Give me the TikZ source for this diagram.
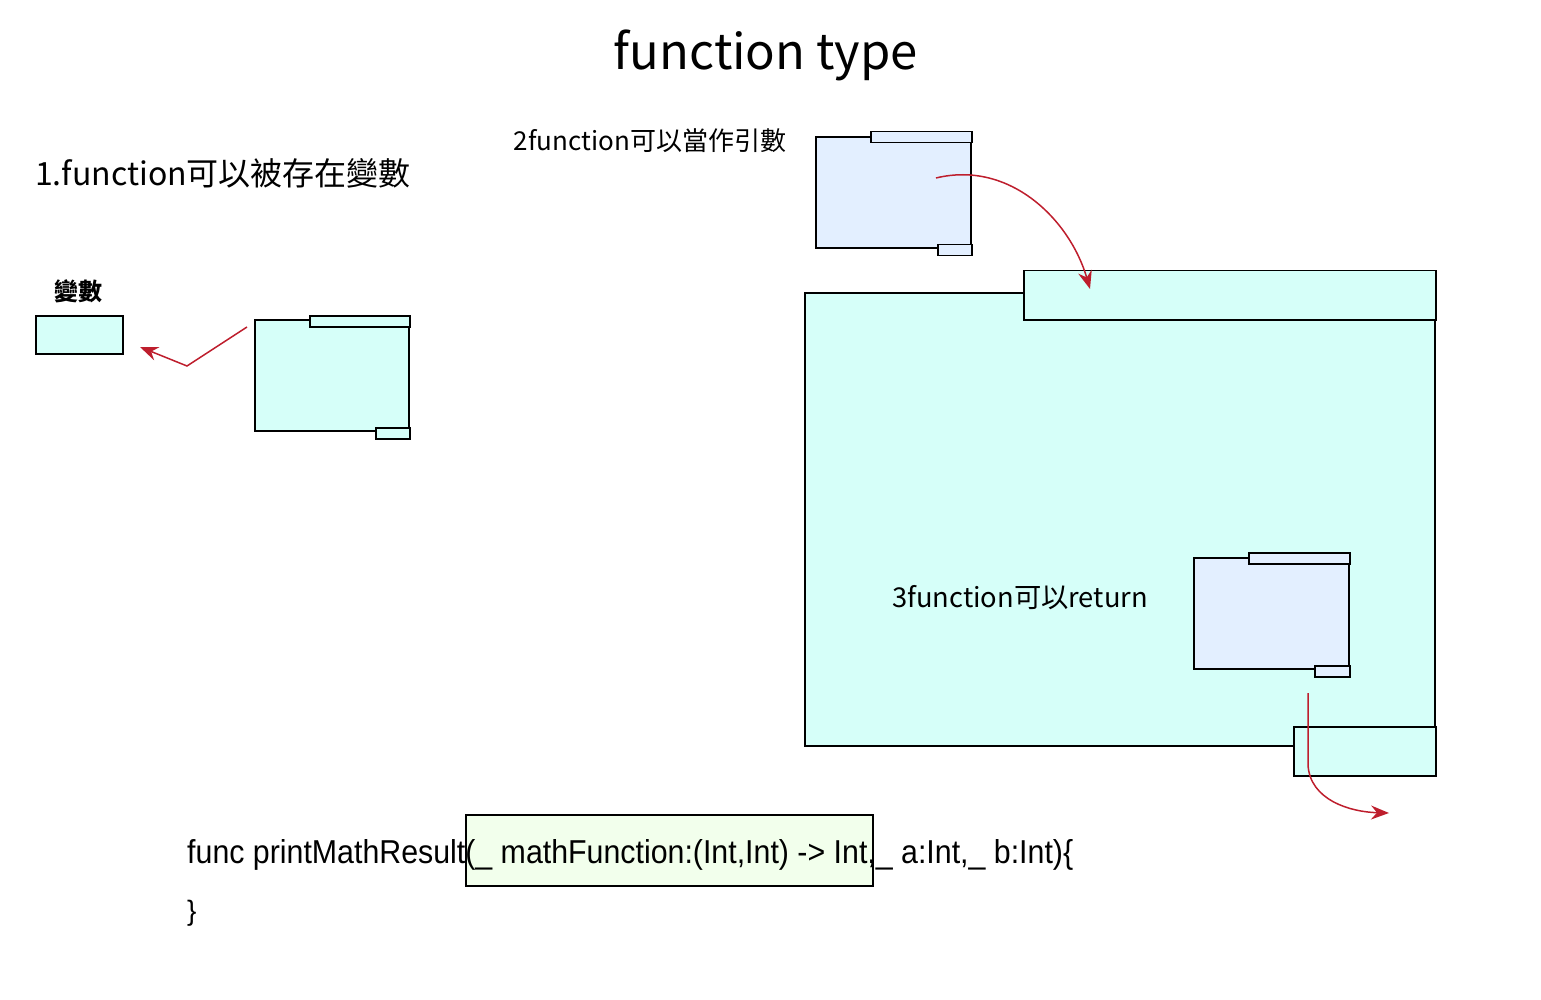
\documentclass[tikz,border=0pt]{standalone}
\usepackage{fontspec}
\setmainfont{Noto Sans CJK TC}
\newfontfamily\codefont{Liberation Sans}
\usetikzlibrary{arrows.meta}
\definecolor{cyanfill}{RGB}{214,255,249}
\definecolor{bluefill}{RGB}{227,239,255}
\definecolor{greenfill}{RGB}{242,255,236}
\definecolor{redline}{RGB}{190,30,45}
\tikzset{
  shp/.style={draw=black, line width=1.5pt},
  cy/.style={shp, fill=cyanfill},
  bl/.style={shp, fill=bluefill},
  redarrow/.style={draw=redline, line width=1.5pt, -{Stealth[length=18pt,width=14pt,inset=6pt]}},
  lbl/.style={inner sep=0pt, anchor=west},
}
\begin{document}
\begin{tikzpicture}[x=1pt,y=-1pt]
\useasboundingbox (0,0) rectangle (1541,1000);
% title
\node[inner sep=0pt] (title) at (766,55) {\fontsize{49}{54}\selectfont function type};
% section 1
\node[lbl] (t1) at (35,173) {\fontsize{32}{36}\selectfont 1.function可以被存在變數};
\node[inner sep=0pt] (vlbl) at (78,291) {\fontsize{24}{28}\selectfont\bfseries 變數};
\node[cy, minimum width=87pt, minimum height=38pt, inner sep=0pt, anchor=north west] (var) at (35,315) {};
% component 1
\path[cy] (255,320) rectangle (409,431);
\node[cy, minimum width=100pt, minimum height=11pt, inner sep=0pt, anchor=north west] (c1top) at (309,315) {};
\node[cy, minimum width=34pt, minimum height=11pt, inner sep=0pt, anchor=north west] (c1bot) at (375,427) {};
\coordinate (c1out) at (247,327);
\coordinate (c1mid) at (187,366);
\coordinate (varin) at (140,347);
\draw[redarrow] (c1out) -- (c1mid) -- (varin);
% section 2
\node[inner sep=0pt] (t2) at (650,141) {\fontsize{26}{30}\selectfont 2function可以當作引數};
\path[bl] (816,137) rectangle (971,248);
\node[bl, minimum width=101pt, minimum height=11pt, inner sep=0pt, anchor=north west] (c2top) at (870,131) {};
\node[bl, minimum width=34pt, minimum height=11pt, inner sep=0pt, anchor=north west] (c2bot) at (937,244) {};
% big component
\path[cy] (805,293) rectangle (1435,746);
\node[cy, minimum width=412pt, minimum height=49pt, inner sep=0pt, anchor=north west] (bigtop) at (1023,270) {};
\node[cy, minimum width=142pt, minimum height=49pt, inner sep=0pt, anchor=north west] (bigbot) at (1293,726) {};
\coordinate (c2out) at (936,178);
\coordinate (bigin) at (1090,289);
\draw[redarrow] (c2out) .. controls (1010,160) and (1070,220) .. (bigin);
% section 3
\node[inner sep=0pt] (t3) at (1020,598) {\fontsize{27.3}{31}\selectfont 3function可以return};
\path[bl] (1194,558) rectangle (1349,669);
\node[bl, minimum width=101pt, minimum height=11pt, inner sep=0pt, anchor=north west] (c3top) at (1248,552) {};
\node[bl, minimum width=35pt, minimum height=11pt, inner sep=0pt, anchor=north west] (c3bot) at (1314,665) {};
\coordinate (c3out) at (1308,693);
\coordinate (c3bend) at (1308,765);
\coordinate (retout) at (1389,813);
\draw[redarrow] (c3out) -- (c3bend) .. controls (1310,800) and (1350,812) .. (retout);
% code
\node[shp, fill=greenfill, minimum width=407pt, minimum height=71pt, inner sep=0pt, anchor=north west] (param) at (465,814) {};
\node[lbl] (code1) at (187,855) {\resizebox{886pt}{24pt}{\codefont\fontsize{28}{32}\selectfont func printMathResult(\_ mathFunction:(Int,Int) -> Int,\_ a:Int,\_ b:Int)\{}};
\node[lbl] (code2) at (187,913) {\codefont\fontsize{28}{32}\selectfont \}};
\end{tikzpicture}
\end{document}
